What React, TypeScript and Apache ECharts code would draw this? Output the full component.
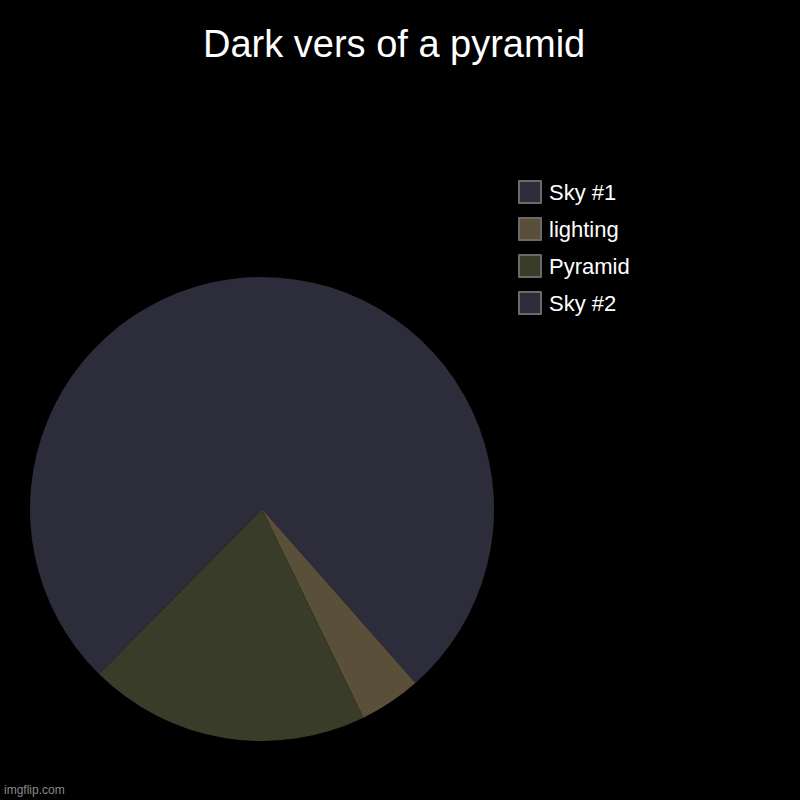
import React, { useEffect, useRef } from 'react';
import * as echarts from 'echarts';

// slice data, clockwise from 12 o'clock
const sliceNames = ['Sky #1', 'lighting', 'Pyramid', 'Sky #2'];
const sliceValues = [38.5, 4.3, 19.6, 37.6];
const sliceColors = ['#2d2c3b', '#5a4f38', '#3a3c2a', '#2d2c3b'];

const App: React.FC = () => {
  const chartRef = useRef<HTMLDivElement>(null);

  useEffect(() => {
    if (!chartRef.current) return;
    const chart = echarts.init(chartRef.current, undefined, { renderer: 'svg' });

    const option = {
      animation: false,
      backgroundColor: '#000000',
      title: {
        text: 'Dark vers of a pyramid',
        left: 203,
        top: 25,
        padding: 0,
        textStyle: {
          color: '#ffffff',
          fontFamily: 'Liberation Sans, Arial, sans-serif',
          fontSize: 38,
          fontWeight: 'normal'
        }
      },
      legend: {
        orient: 'vertical',
        left: 518,
        top: 180,
        padding: 0,
        icon: 'rect',
        itemWidth: 22,
        itemHeight: 22,
        itemGap: 13,
        selectedMode: false,
        data: sliceNames,
        itemStyle: {
          borderColor: '#6a6a6a',
          borderWidth: 2
        },
        textStyle: {
          color: '#ffffff',
          fontFamily: 'Liberation Sans, Arial, sans-serif',
          fontSize: 22,
          padding: [0, 0, 0, 3]
        }
      },
      graphic: [
        {
          type: 'text',
          left: 4,
          top: 784,
          style: {
            text: 'imgflip.com',
            fill: '#8a8a8a',
            font: '12px Liberation Sans, Arial, sans-serif'
          }
        }
      ],
      series: [
        {
          type: 'pie',
          center: [262, 509],
          radius: 232,
          startAngle: 90,
          clockwise: true,
          label: { show: false },
          labelLine: { show: false },
          emphasis: { disabled: true },
          itemStyle: { borderWidth: 0 },
          data: sliceNames.map((name, i) => ({
            name,
            value: sliceValues[i],
            itemStyle: { color: sliceColors[i] }
          }))
        }
      ]
    };

    chart.setOption(option);
    return () => {
      chart.dispose();
    };
  }, []);

  return (
    <div
      ref={chartRef}
      style={{ position: 'fixed', left: 0, top: 0, width: '800px', height: '800px' }}
    ></div>
  );
};

export default App;
